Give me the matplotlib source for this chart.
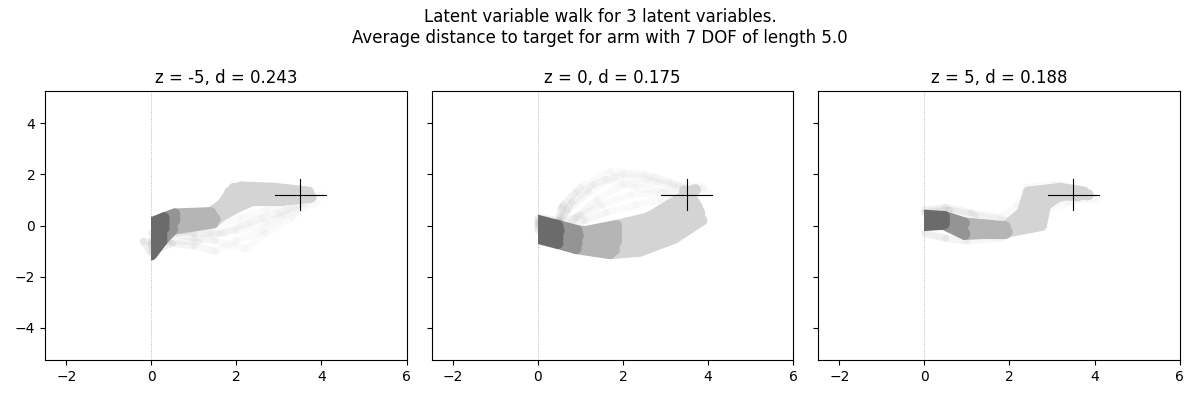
import matplotlib
matplotlib.use("Agg")
import matplotlib.pyplot as plt
from matplotlib.patches import Rectangle

# panel settings
z_values = [-5, 0, 5]
distances = [0.243, 0.175, 0.188]
target = (3.5, 1.2)

# gray level of each arm segment (base -> tip)
seg_grays = [0.42, 0.58, 0.71, 0.83, 0.83, 0.83, 0.83]

# joint positions (x, y) of arm poses, base first
core_m5 = [
    [(0, -0.2), (0.3, 0.1), (0.55, 0.3), (1.45, 0.35), (1.75, 1.0), (1.95, 1.45), (2.8, 1.35), (3.6, 1.3)],
    [(0, -0.9), (0.25, -0.4), (0.5, 0.05), (1.45, 0.15), (1.7, 0.8), (1.85, 1.3), (2.7, 1.1), (3.5, 1.15)],
    [(0, 0.1), (0.3, 0.3), (0.55, 0.45), (1.4, 0.5), (1.9, 1.1), (2.1, 1.5), (2.9, 1.45), (3.7, 1.3)],
    [(0, -0.5), (0.3, -0.1), (0.55, 0.2), (1.5, 0.25), (2.0, 0.7), (2.4, 1.0), (3.1, 1.0), (3.75, 1.1)],
    [(0, -1.15), (0.25, -0.6), (0.5, -0.15), (1.45, 0.1), (1.8, 0.6), (2.2, 1.2), (3.0, 1.2), (3.6, 1.2)],
]
faint_m5 = [
    [(0, -1.0), (0.5, -0.7), (1.0, -0.8), (1.5, -1.0), (2.0, -0.6), (2.6, -0.2), (3.1, 0.4), (3.5, 1.0)],
    [(0, -0.6), (0.5, -0.3), (1.0, -0.5), (1.5, -0.6), (2.2, -0.9), (2.7, -0.3), (3.3, 0.3), (3.8, 1.1)],
    [(0, -0.8), (0.45, -0.1), (1.0, -0.3), (1.6, -0.3), (2.1, 0.0), (2.6, 0.3), (3.2, 0.6), (3.9, 1.2)],
    [(0, -1.1), (-0.2, -0.6), (0.4, -0.6), (1.1, -0.6), (1.7, -0.3), (2.3, 0.1), (3.0, 0.5), (3.6, 0.9)],
    [(0, -0.3), (0.5, 0.0), (1.0, -0.1), (1.5, 0.0), (2.1, 0.3), (2.7, 0.6), (3.3, 0.9), (4.0, 1.2)],
    [(0, -0.7), (0.4, -0.4), (0.9, -0.2), (1.4, -0.3), (2.0, -0.2), (2.7, 0.1), (3.4, 0.6), (3.9, 0.9)],
]

core_0 = [
    [(0, 0.2), (0.47, 0.0), (0.92, -0.2), (1.85, -0.4), (2.6, -0.3), (3.3, 0.1), (3.75, 0.7), (3.55, 1.25)],
    [(0, -0.3), (0.47, -0.5), (0.92, -0.7), (1.8, -0.95), (2.5, -0.8), (3.2, -0.3), (3.8, 0.3), (3.6, 1.1)],
    [(0, -0.5), (0.47, -0.7), (0.9, -0.9), (1.7, -1.1), (2.4, -1.0), (3.2, -0.5), (3.85, 0.2), (3.5, 1.0)],
    [(0, 0.0), (0.5, -0.2), (0.95, -0.4), (1.85, -0.6), (2.7, -0.1), (3.3, 0.5), (3.6, 1.0), (3.45, 1.35)],
    [(0, 0.1), (0.47, -0.1), (0.92, -0.3), (1.85, 0.0), (2.6, 0.3), (3.1, 0.8), (3.5, 1.2), (3.7, 1.4)],
    [(0, -0.15), (0.47, -0.35), (0.92, -0.55), (1.8, -0.75), (2.55, -0.55), (3.25, -0.1), (3.8, 0.5), (3.55, 1.2)],
    [(0, 0.15), (0.47, -0.05), (0.92, -0.25), (1.85, -0.2), (2.65, 0.05), (3.2, 0.45), (3.55, 1.1), (3.6, 1.35)],
]
faint_0 = [
    [(0, 0.2), (0.5, 0.0), (0.6, 0.8), (1.0, 1.5), (1.7, 2.1), (2.5, 2.0), (3.1, 1.7), (3.6, 1.3)],
    [(0, 0.0), (0.45, -0.1), (0.7, 0.6), (1.2, 1.3), (1.8, 1.9), (2.6, 1.8), (3.2, 1.5), (3.7, 1.2)],
    [(0, -0.2), (0.5, -0.3), (0.9, 0.3), (1.4, 1.0), (2.0, 1.6), (2.8, 1.7), (3.4, 1.5), (3.9, 1.4)],
    [(0, 0.1), (0.45, 0.0), (0.55, 0.7), (0.9, 1.3), (1.6, 1.8), (2.3, 1.5), (3.0, 1.3), (3.6, 1.2)],
    [(0, 0.1), (0.5, 0.1), (1.0, 0.4), (1.5, 0.8), (2.2, 1.2), (2.9, 1.3), (3.5, 1.2), (4.0, 1.3)],
    [(0, -0.1), (0.5, -0.2), (1.1, 0.2), (1.6, 0.5), (2.3, 0.8), (2.9, 1.0), (3.4, 1.1), (3.9, 1.5)],
    [(0, 0.3), (0.5, 0.2), (0.8, 0.9), (1.3, 1.6), (2.0, 2.0), (2.7, 1.9), (3.3, 1.6), (3.8, 1.6)],
]

core_5 = [
    [(0, 0.4), (0.47, 0.35), (0.94, 0.1), (1.9, -0.05), (2.3, 0.5), (2.45, 1.3), (3.2, 1.45), (3.75, 1.3)],
    [(0, 0.1), (0.47, 0.1), (0.94, -0.3), (1.9, -0.3), (2.5, 0.2), (2.65, 1.0), (3.35, 1.2), (3.6, 1.15)],
    [(0, 0.25), (0.47, 0.2), (0.9, -0.15), (1.85, -0.2), (2.4, 0.35), (2.55, 1.2), (3.3, 1.3), (3.85, 1.2)],
    [(0, 0.0), (0.45, 0.05), (0.95, -0.35), (1.95, -0.25), (2.75, 0.0), (2.85, 0.8), (3.2, 1.2), (3.55, 1.3)],
]
faint_5 = [
    [(0, 0.6), (0.5, 0.7), (1.1, 0.5), (1.8, 0.3), (2.2, 0.8), (2.4, 1.5), (3.1, 1.6), (3.8, 1.4)],
    [(0, -0.3), (0.5, -0.5), (1.0, -0.6), (1.8, -0.5), (2.4, -0.1), (2.8, 0.6), (3.4, 0.9), (4.0, 1.1)],
    [(0, 0.5), (0.6, 0.6), (1.2, 0.4), (1.9, 0.2), (2.5, 0.4), (2.9, 1.0), (3.5, 1.1), (4.1, 1.0)],
]

core_poses = [core_m5, core_0, core_5]
faint_poses = [faint_m5, faint_0, faint_5]


def draw_poses(ax, poses, lw, alpha, zorder, clip=None):
    # tip segments first so the base segments end up on top
    for i in reversed(range(len(seg_grays))):
        for pose in poses:
            (x0, y0), (x1, y1) = pose[i], pose[i + 1]
            line, = ax.plot([x0, x1], [y0, y1], color=str(seg_grays[i]), lw=lw,
                            alpha=alpha, solid_capstyle="round", zorder=zorder)
            if i == 0 and clip is not None:
                line.set_clip_path(clip)


fig, axes = plt.subplots(1, 3, figsize=(12, 4), dpi=100, sharey=True)
fig.subplots_adjust(left=0.0375, right=0.983, top=0.7725, bottom=0.1, wspace=0.069)

for ax, z, d, core, faint in zip(axes, z_values, distances, core_poses, faint_poses):
    ax.axvline(0, color="0.65", ls=":", lw=0.6, zorder=0)
    # the arm base sits on the rail at x = 0
    rail_side = Rectangle((0, -10), 10, 20, transform=ax.transData)
    draw_poses(ax, faint, lw=5, alpha=0.1, zorder=1)
    draw_poses(ax, core, lw=8, alpha=1.0, zorder=2, clip=rail_side)
    tx, ty = target
    ax.plot([tx - 0.6, tx + 0.6], [ty, ty], color="k", lw=0.8, zorder=3)
    ax.plot([tx, tx], [ty - 0.6, ty + 0.6], color="k", lw=0.8, zorder=3)
    ax.set_xlim(-2.5, 6)
    ax.set_ylim(-5.25, 5.25)
    ax.set_xticks([-2, 0, 2, 4, 6])
    ax.set_yticks([-4, -2, 0, 2, 4])
    ax.set_title(f"z = {z}, d = {d}")

fig.suptitle("Latent variable walk for 3 latent variables.\n"
             "Average distance to target for arm with 7 DOF of length 5.0")
fig.savefig("out.png")
